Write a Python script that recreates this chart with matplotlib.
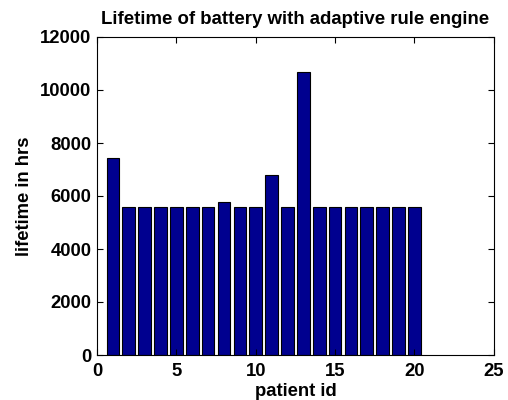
import matplotlib
matplotlib.use("Agg")
import matplotlib.pyplot as plt

plt.rcParams['font.family'] = ['Liberation Sans', 'DejaVu Sans']
plt.rcParams['font.weight'] = 'bold'

patient_id = list(range(1, 21))
lifetime = [7450, 5600, 5600, 5600, 5600, 5600, 5600, 5790, 5600, 5600,
            6800, 5600, 10680, 5600, 5600, 5600, 5600, 5600, 5600, 5600]

fig = plt.figure(figsize=(5.08, 4.0), dpi=100)
ax = fig.add_axes([0.191, 0.1125, 0.781, 0.795])

ax.bar(patient_id, lifetime, width=0.8, color='#00008f', edgecolor='black', linewidth=0.8)

ax.set_xlim(0, 25)
ax.set_ylim(0, 12000)
ax.set_xticks(range(0, 26, 5))
ax.set_yticks(range(0, 12001, 2000))
ax.tick_params(direction='in', top=True, right=True, length=4, labelsize=13.3, width=0.8)
ax.tick_params(axis='x', pad=6)
ax.tick_params(axis='y', pad=4)
for lbl in ax.get_xticklabels() + ax.get_yticklabels():
    lbl.set_fontweight('bold')

ax.set_title('Lifetime of battery with adaptive rule engine', fontsize=13.4, fontweight='bold', pad=9)
ax.set_xlabel('patient id', fontsize=13.3, fontweight='bold', labelpad=2)
ax.set_ylabel('lifetime in hrs', fontsize=13.3, fontweight='bold', labelpad=5)

plt.savefig('out.png', dpi=100)
